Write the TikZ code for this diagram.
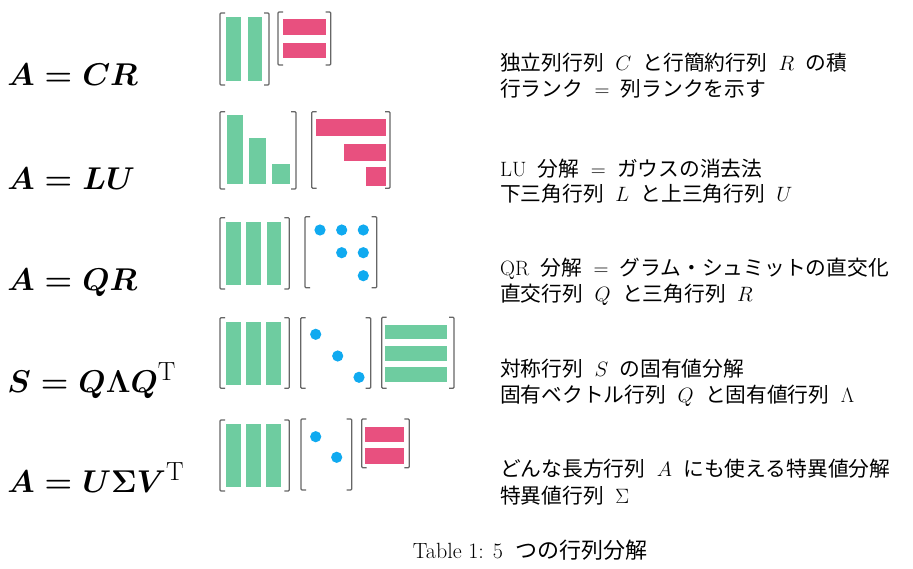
\documentclass[tikz,border=0pt]{standalone}
\usepackage{amsmath}
\usepackage{fontspec}
\newfontfamily\jp{Noto Sans CJK JP}
\definecolor{mgreen}{RGB}{110,204,160}
\definecolor{mpink}{RGB}{232,80,127}
\definecolor{mblue}{RGB}{16,170,240}
\tikzset{
  brk/.style={draw=black!60, line width=1.2pt, rounded corners=1pt},
  gbar/.style={fill=mgreen},
  pbar/.style={fill=mpink},
  bdot/.style={fill=mblue},
  eqn/.style={anchor=base west, inner sep=0pt, scale=1.266, transform shape,
              font=\fontsize{24.88}{30}\selectfont\boldmath},
  desc/.style={anchor=base west, inner sep=0pt, font=\fontsize{20.74}{26}\selectfont},
  capt/.style={anchor=base, inner sep=0pt, font=\fontsize{22}{26}\selectfont},
}
\newcommand\js{\hspace{0.55em}}
% bracket pair: x1,y1,x2,y2
\newcommand\mbrk[4]{%
  \draw[brk] (#1+5,#2) -- (#1,#2) -- (#1,#4) -- (#1+5,#4);
  \draw[brk] (#3-5,#2) -- (#3,#2) -- (#3,#4) -- (#3-5,#4);}
\newcommand\mdot[2]{\fill[bdot] (#1,#2) circle (5.6);}
\begin{document}
\begin{tikzpicture}[x=1pt,y=-1pt]
\useasboundingbox (0,0) rectangle (913,569);

% ---------- formulas ----------
\node[eqn] (f1) at (7,86) {$A = CR$};
\node[eqn] (f2) at (7,190) {$A = LU$};
\node[eqn] (f3) at (7,291) {$A = QR$};
\node[eqn] (f4) at (7,392) {$S = Q\Lambda Q^{\text{T}}$};
\node[eqn] (f5) at (7,492) {$A = U\Sigma V^{\text{T}}$};

% ---------- row 1: C R ----------
\mbrk{220}{13}{269}{85}
\fill[gbar] (225.7,17) rectangle (240.7,81);
\fill[gbar] (247.7,17) rectangle (262.3,81);
\mbrk{278}{12}{330.7}{65}
\fill[pbar] (282.7,19.3) rectangle (325.7,35);
\fill[pbar] (282.7,42.7) rectangle (325.7,58.3);

% ---------- row 2: L U ----------
\mbrk{220}{111.7}{296}{189}
\fill[gbar] (226.7,115) rectangle (243.3,184.3);
\fill[gbar] (249.3,138.3) rectangle (266,184.3);
\fill[gbar] (271.7,163.7) rectangle (290,184.3);
\mbrk{311.7}{111.7}{390}{188.3}
\fill[pbar] (316,119) rectangle (385.7,135.7);
\fill[pbar] (344.3,144) rectangle (385.7,161);
\fill[pbar] (366,167) rectangle (385.7,185.7);

% ---------- row 3: Q R ----------
\mbrk{220}{217.7}{289.3}{289}
\fill[gbar] (225.7,221.7) rectangle (240.7,285);
\fill[gbar] (246,221.7) rectangle (260.5,285);
\fill[gbar] (266.7,221.7) rectangle (281,285);
\mbrk{305}{216.7}{376.7}{287.7}
\mdot{320}{230} \mdot{341.7}{230} \mdot{363.3}{230}
\mdot{341.7}{252.7} \mdot{363.3}{252.7}
\mdot{363.3}{275.7}

% ---------- row 4: Q Lambda Q^T ----------
\mbrk{220}{317.7}{289.3}{388.3}
\fill[gbar] (225.7,322.3) rectangle (240.7,385);
\fill[gbar] (246,322.3) rectangle (261,385);
\fill[gbar] (266,322.3) rectangle (281,385);
\mbrk{300.7}{317.7}{370.7}{388.3}
\mdot{315.7}{334.3} \mdot{337.7}{356} \mdot{359}{377.3}
\mbrk{381.7}{317.3}{454}{388.3}
\fill[gbar] (385,325) rectangle (447.3,339.3);
\fill[gbar] (385,345.7) rectangle (447.3,361);
\fill[gbar] (385,367.3) rectangle (447.3,382.3);

% ---------- row 5: U Sigma V^T ----------
\mbrk{220}{420}{289.3}{491}
\fill[gbar] (225.7,424) rectangle (240.7,487.3);
\fill[gbar] (246,424) rectangle (261,487.3);
\fill[gbar] (266,424) rectangle (281,487.3);
\mbrk{301}{419}{351.7}{490}
\mdot{315.7}{436.7} \mdot{336.7}{457.3}
\mbrk{361.7}{419}{409.3}{467.7}
\fill[pbar] (365,426.7) rectangle (404.3,441.7);
\fill[pbar] (365,448.3) rectangle (404.3,464);

% ---------- descriptions ----------
\node[desc] (d1a) at (500,71) {{\jp 独立列行列}\js$C$\js{\jp と行簡約行列}\js$R$\js{\jp の積}};
\node[desc] (d1b) at (500,97) {{\jp 行ランク}\js$=$\js{\jp 列ランクを示す}};
\node[desc] (d2a) at (500,176.5) {LU\js{\jp 分解}\js$=$\js{\jp ガウスの消去法}};
\node[desc] (d2b) at (500,202) {{\jp 下三角行列}\js$L$\js{\jp と上三角行列}\js$U$};
\node[desc] (d3a) at (500,276) {QR\js{\jp 分解}\js$=$\js{\jp グラム・シュミットの直交化}};
\node[desc] (d3b) at (500,302) {{\jp 直交行列}\js$Q$\js{\jp と三角行列}\js$R$};
\node[desc] (d4a) at (500,376) {{\jp 対称行列}\js$S$\js{\jp の固有値分解}};
\node[desc] (d4b) at (500,402) {{\jp 固有ベクトル行列}\js$Q$\js{\jp と固有値行列}\js$\Lambda$};
\node[desc] (d5a) at (500,476.5) {{\jp どんな長方行列}\js$A$\js{\jp にも使える特異値分解}};
\node[desc] (d5b) at (500,503) {{\jp 特異値行列}\js$\Sigma$};

% ---------- caption ----------
\node[capt] (cap) at (530,558) {Table 1: 5\js{\jp つの行列分解}};
\end{tikzpicture}
\end{document}
